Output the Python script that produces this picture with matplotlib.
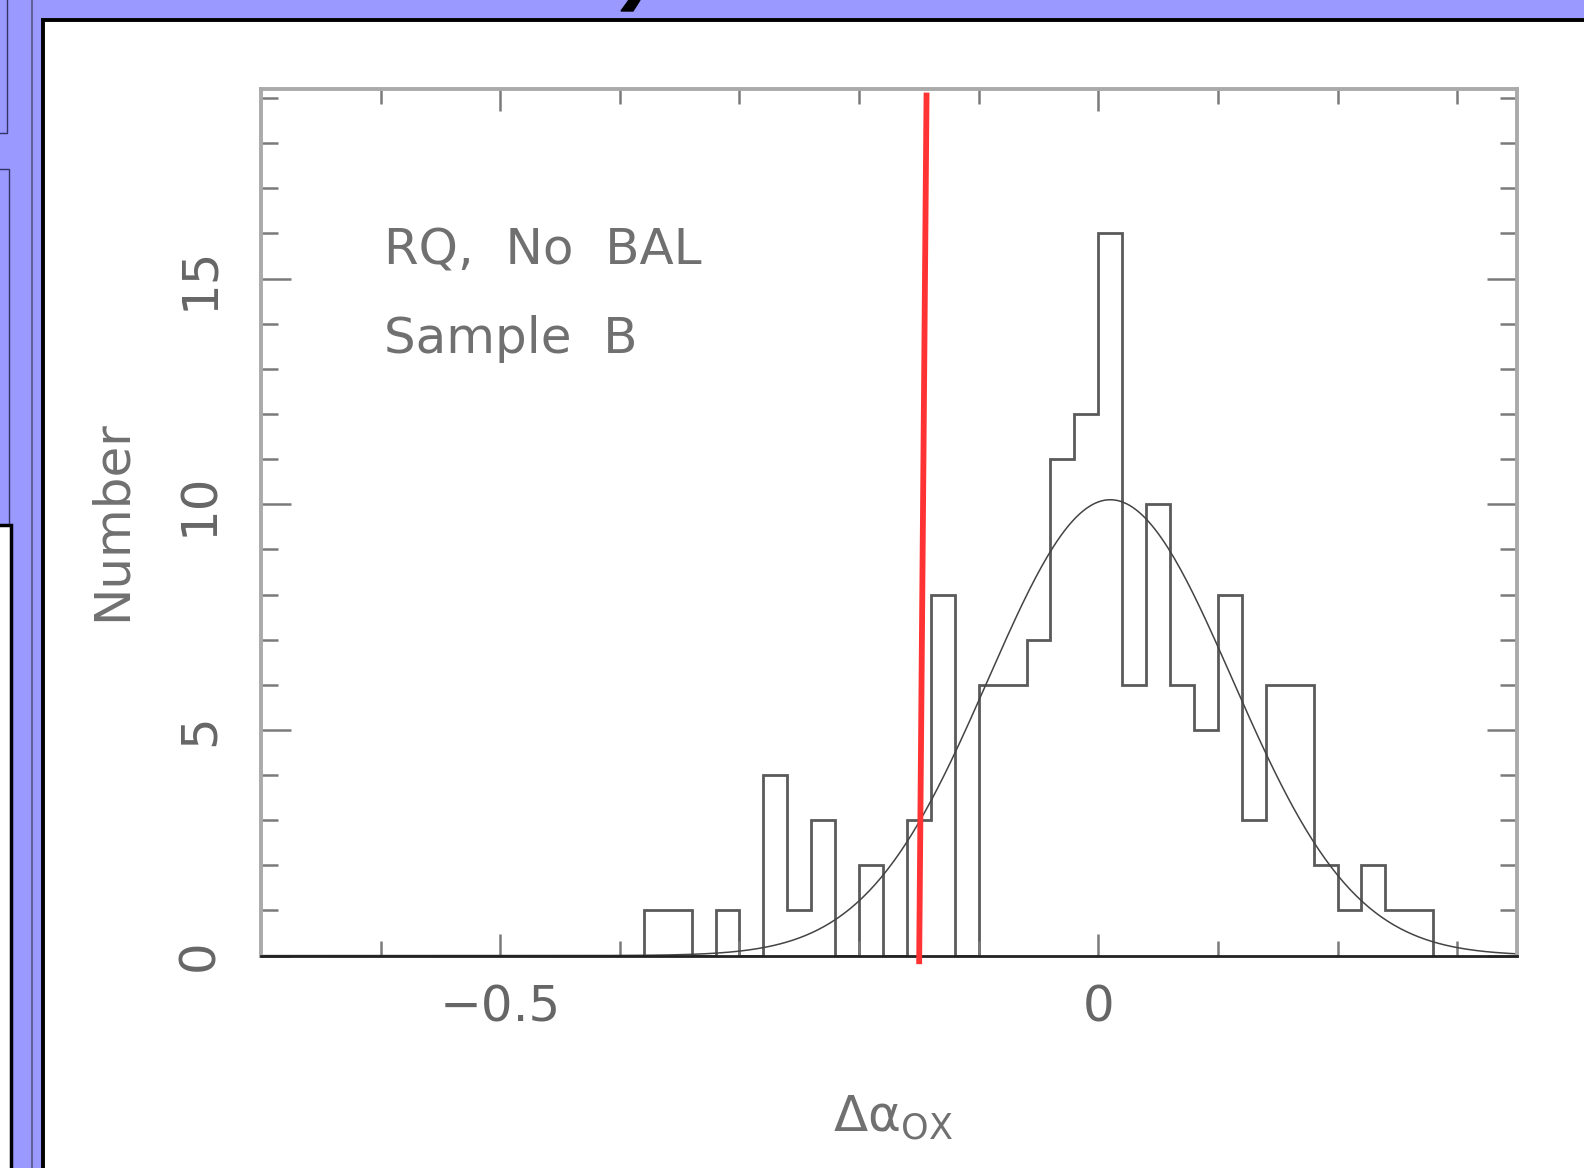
import numpy as np
import matplotlib
matplotlib.use("Agg")
import matplotlib.pyplot as plt
from matplotlib.patches import Rectangle, Polygon

# histogram of Delta alpha_ox, bin width 0.02
bin_edges = [-0.38, -0.36, -0.34, -0.32, -0.30, -0.28, -0.26, -0.24, -0.22,
             -0.20, -0.18, -0.16, -0.14, -0.12, -0.10, -0.08, -0.06, -0.04,
             -0.02, 0.00, 0.02, 0.04, 0.06, 0.08, 0.10, 0.12, 0.14, 0.16,
             0.18, 0.20, 0.22, 0.24, 0.26, 0.28]
counts = [1, 1, 0, 1, 0, 4, 1, 3, 0, 2, 0, 3, 8, 0, 6, 6, 7, 11,
          12, 16, 6, 10, 6, 5, 8, 3, 6, 6, 2, 1, 2, 1, 1]

# gaussian fit drawn over the histogram
fit_mean = 0.01
fit_sigma = 0.102
fit_peak = 10.1

# red cut line (slightly tilted in the original)
cut_x = [-0.1498, -0.1436]
cut_y = [-0.19, 19.12]

x_ticklabels = ['\u22120.5', '0']
y_ticklabels = ['0', '5', '10', '15']

W, H = 1584, 1168
fig = plt.figure(figsize=(W / 100, H / 100), dpi=100, facecolor='#9999ff')


def px(x0, y0, x1, y1):
    # pixel box (top-left origin) -> figure fraction rectangle args
    return (x0 / W, 1 - y1 / H), (x1 - x0) / W, (y1 - y0) / H


# slide decoration around the plot
for (x0, y0, x1, y1), fc, ec, lw in [
        ((-5, -5, 7, 133), '#9999ff', '#333366', 1.0),
        ((-5, 169, 9, 525), '#9999ff', '#333366', 1.0),
        ((-5, 525, 11, H + 5), 'white', 'black', 2.5),
        ((43, 20, W + 5, H + 5), 'white', 'black', 2.8)]:
    xy, w, h = px(x0, y0, x1, y1)
    fig.add_artist(Rectangle(xy, w, h, transform=fig.transFigure,
                             facecolor=fc, edgecolor=ec, lw=lw, zorder=-1))
fig.add_artist(plt.Line2D([32 / W, 32 / W], [0, 1], transform=fig.transFigure,
                          color='#555588', lw=1.2, zorder=-1))
glyph = [(629, 0), (640, 0), (633, 11), (621, 11)]
fig.add_artist(Polygon([(a / W, 1 - b / H) for a, b in glyph],
                       transform=fig.transFigure, color='black', zorder=-1))

ax = fig.add_axes([261 / W, 1 - 955.6 / H, (1517 - 261) / W, (955.6 - 89) / H])
ax.set_zorder(2)
ax.set_facecolor('white')

ax.stairs(counts, bin_edges, baseline=0, color='#5a5a5a', lw=2.0)

xs = np.linspace(-0.7, 0.35, 400)
ax.plot(xs, fit_peak * np.exp(-(xs - fit_mean) ** 2 / (2 * fit_sigma ** 2)),
        color='#444444', lw=1.1)

ax.plot(cut_x, cut_y, color='#ff3333', lw=4.2, clip_on=False,
        solid_capstyle='butt', zorder=5)

ax.set_xlim(-0.7, 0.35)
ax.set_ylim(0, 19.2)

ax.set_xticks([-0.5, 0.0])
ax.set_xticklabels(x_ticklabels)
ax.set_xticks(np.arange(-0.6, 0.35, 0.1), minor=True)
ax.set_yticks([0, 5, 10, 15])
ax.set_yticklabels(y_ticklabels, rotation=90, va='center')
ax.set_yticks(np.arange(0, 19.5, 1), minor=True)

for s in ['left', 'right', 'top']:
    ax.spines[s].set_color('#aaaaaa')
    ax.spines[s].set_linewidth(2.8)
ax.spines['bottom'].set_color('#222222')
ax.spines['bottom'].set_linewidth(2.0)

ax.tick_params(axis='both', which='both', direction='in', top=True, right=True,
               color='#7a7a7a', width=1.8, labelcolor='#666666', labelsize=36)
ax.tick_params(axis='y', which='major', length=21.5, pad=27)
ax.tick_params(axis='y', which='minor', length=12)
ax.tick_params(axis='x', which='major', length=16, pad=20)
ax.tick_params(axis='x', which='minor', length=11)

ax.text(-0.597, 15.32, 'RQ,  No  BAL', fontsize=36, color='#707070', va='baseline')
ax.text(-0.597, 13.35, 'Sample  B', fontsize=36, color='#707070', va='baseline')

fig.text(112 / W, 1 - 521 / H, 'Number', rotation=90, ha='center', va='center',
         fontsize=36, color='#707070')
fig.text(893 / W, 1 - 1131 / H, '\u0394\u03b1$_{\\mathrm{OX}}$', ha='center',
         va='baseline', fontsize=36, color='#707070')

fig.savefig('out.png', dpi=100, facecolor=fig.get_facecolor())
